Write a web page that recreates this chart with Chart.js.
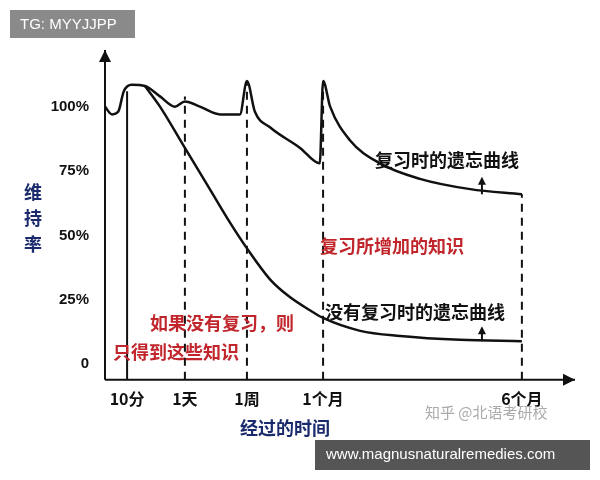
<!DOCTYPE html><html><head><meta charset="utf-8">
<script src="https://cdn.jsdelivr.net/npm/chart.js@4"></script>
<style>body{margin:0;background:#fff}#w{width:600px;height:480px;position:relative}</style></head>
<body><div id="w"><canvas id="c"></canvas></div>
<script>
const xTickVals=[4.7,17,30.2,46.4,88.7];
const xTickLabels=['10分','1天','1周','1个月','6个月'];
const yTickVals=[0,25,50,75,100];
const yTickLabels=['0','25%','50%','75%','100%'];
const reviewX=[0,1.5,2.8,4.0,5.7,8.5,11.7,14.9,17,20.2,24.5,28.7,30.2,31.9,35.1,41.5,45.7,46.4,47.9,52.1,58.5,67,77.7,88.7];
const reviewY=[100,97,98,106,108.5,108,104,100,102,100,97,97,110,98,92,84,78,110,100,87,78,72,68,66];
const noReviewX=[8.5,11.7,17,22.3,26.6,30.2,35.1,39.4,43.6,46.4,54.3,62.8,75.5,88.7];
const noReviewY=[108,100,84,68,55,45,33,26,21,18,13,11,9.5,9];
const ink='#111';
const deco={id:'deco',afterDraw(ch){
 const c=ch.ctx,xs=ch.scales.x,ys=ch.scales.y,a=ch.chartArea;
 c.save();c.strokeStyle=ink;c.lineWidth=2;
 c.beginPath();c.moveTo(a.left,a.bottom);c.lineTo(a.left,a.top);c.moveTo(a.left,a.bottom);c.lineTo(a.right,a.bottom);c.stroke();
 c.fillStyle=ink;c.beginPath();c.moveTo(a.left-6,a.top+12);c.lineTo(a.left,a.top);c.lineTo(a.left+6,a.top+12);c.fill();
 c.beginPath();c.moveTo(a.right-12,a.bottom-6);c.lineTo(a.right,a.bottom);c.lineTo(a.right-12,a.bottom+6);c.fill();
 const top=[108,104,110,110,66];
 xTickVals.forEach((v,i)=>{c.beginPath();c.setLineDash(i==0?[]:[8,6]);c.moveTo(xs.getPixelForValue(v),a.bottom);c.lineTo(xs.getPixelForValue(v),ys.getPixelForValue(i==0?106:top[i]));c.stroke();});
 c.setLineDash([]);
 [[66,72],[9,14]].forEach(p=>{const x=xs.getPixelForValue(80.2);c.beginPath();c.moveTo(x,ys.getPixelForValue(p[0]));c.lineTo(x,ys.getPixelForValue(p[1]));c.stroke();
  const y=ys.getPixelForValue(p[1]);c.beginPath();c.moveTo(x-4,y+6);c.lineTo(x,y-2);c.lineTo(x+4,y+6);c.fill();});
 c.font='bold 18px "Noto Sans CJK SC"';c.textBaseline='middle';
 c.fillStyle=ink;c.fillText('复习时的遗忘曲线',375,160);c.fillText('没有复习时的遗忘曲线',325,312);
 c.fillStyle='#c0262b';c.fillText('复习所增加的知识',320,246);c.fillText('如果没有复习，则',150,323);c.fillText('只得到这些知识',113,352);
 c.fillStyle='#1a2a6c';c.font='bold 18px "Noto Sans CJK SC"';
 ['维','持','率'].forEach((t,i)=>c.fillText(t,24,192+i*26));
 c.fillText('经过的时间',240,428);
 c.fillStyle='#aaa';c.font='15px "Noto Sans CJK SC"';c.fillText('知乎 @北语考研校',425,412);
 c.fillStyle='#8a8a8a';c.fillRect(10,10,125,28);c.fillStyle='#555';c.fillRect(315,440,275,30);
 c.fillStyle='#fff';c.font='15px "Liberation Sans"';c.fillText('TG: MYYJJPP',20,25);c.fillText('www.magnusnaturalremedies.com',326,455);
 c.restore();}};
new Chart(document.getElementById('c'),{type:'line',
 data:{datasets:[
  {data:reviewX.map((x,i)=>({x,y:reviewY[i]})),borderColor:ink,borderWidth:2.5,pointRadius:0,cubicInterpolationMode:'monotone'},
  {data:noReviewX.map((x,i)=>({x,y:noReviewY[i]})),borderColor:ink,borderWidth:2.5,pointRadius:0,cubicInterpolationMode:'monotone'}]},
 options:{responsive:true,maintainAspectRatio:false,animation:false,
  layout:{padding:{left:0,right:25,top:50,bottom:69}},
  plugins:{legend:{display:false},tooltip:{enabled:false}},
  scales:{
   x:{type:'linear',min:0,max:100,grid:{display:false},border:{display:false},
    afterBuildTicks:s=>{s.ticks=xTickVals.map(v=>({value:v}));},
    ticks:{color:ink,font:{size:16,weight:'bold',family:'"Noto Sans CJK SC"'},padding:2,callback:(v,i)=>xTickLabels[i]}},
   y:{min:-6,max:122,grid:{display:false},border:{display:false},afterFit:s=>{s.width=105;},
    afterBuildTicks:s=>{s.ticks=yTickVals.map(v=>({value:v}));},
    ticks:{color:ink,font:{size:15,weight:'bold',family:'"Liberation Sans"'},padding:8,callback:(v,i)=>yTickLabels[i]}}}},
 plugins:[deco]});
</script></body></html>
